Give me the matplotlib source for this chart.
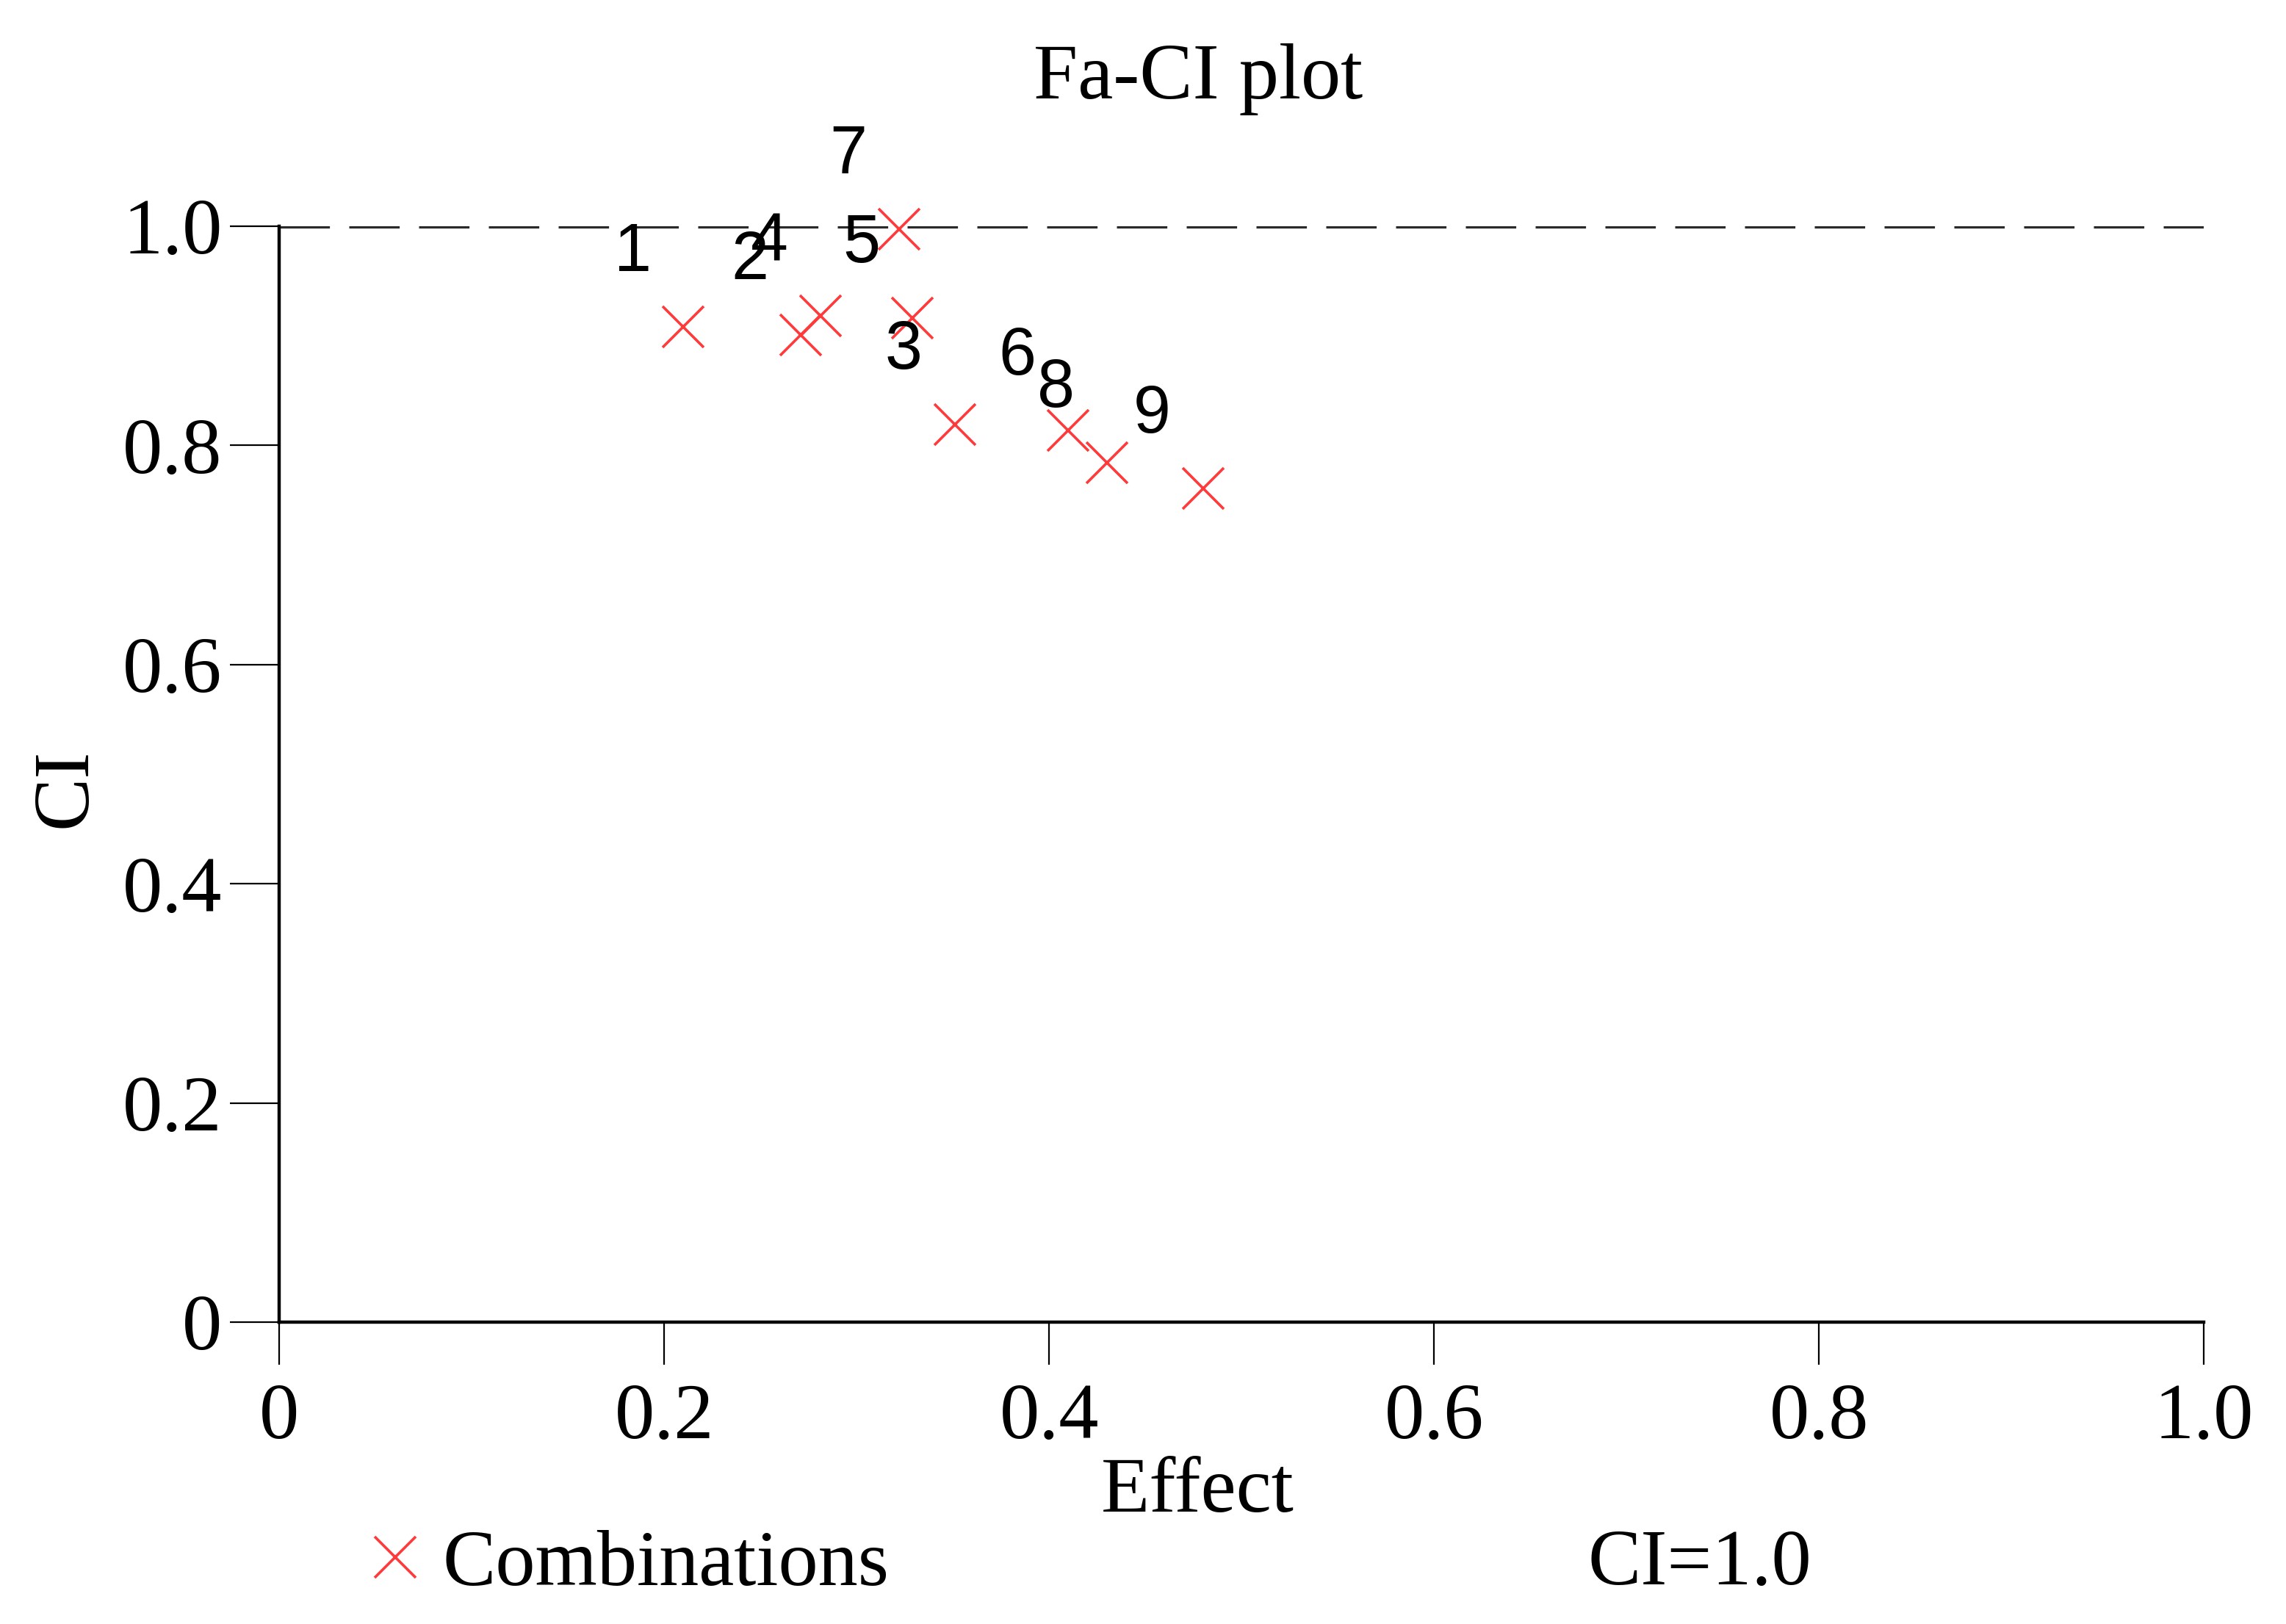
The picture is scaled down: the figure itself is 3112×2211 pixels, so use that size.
import matplotlib
matplotlib.use('Agg')
import matplotlib.pyplot as plt
from matplotlib.lines import Line2D

# combination data
effect = [0.210, 0.271, 0.281, 0.322, 0.329, 0.351, 0.410, 0.430, 0.480]
ci = [0.908, 0.901, 0.918, 0.997, 0.916, 0.819, 0.814, 0.784, 0.761]
labels = ['1', '2', '4', '7', '5', '3', '6', '8', '9']
ci_ref = 1.0
ticks = [0, 0.2, 0.4, 0.6, 0.8, 1.0]
tick_labels = ['0', '0.2', '0.4', '0.6', '0.8', '1.0']

serif = 'Liberation Serif'
red = '#ff3a3a'
fs = 39

fig = plt.figure(figsize=(15.56, 11.055), dpi=200)
ax = fig.add_axes([0.1222, 0.1859, 0.8419, 0.6748])

ax.axhline(ci_ref, color='#2a2a2a', lw=1.9, ls=(0, (13, 5)), zorder=1)
ax.plot(effect, ci, ls='none', marker='x', ms=20, mew=1.3, color=red,
        zorder=3, clip_on=False)
for x, y, lab in zip(effect, ci, labels):
    ax.annotate(lab, (x, y), xytext=(-25, 36), textcoords='offset points',
                ha='center', va='center', fontsize=33, family='Liberation Sans')

ax.set_xlim(0, 1)
ax.set_ylim(0, 1)
ax.set_xticks(ticks)
ax.set_xticklabels(tick_labels)
ax.set_yticks(ticks)
ax.set_yticklabels(tick_labels)
for s in ['top', 'right']:
    ax.spines[s].set_visible(False)
for s in ['left', 'bottom']:
    ax.spines[s].set_linewidth(1.6)
ax.tick_params(axis='y', direction='out', length=24, width=0.8, pad=4)
ax.tick_params(axis='x', direction='out', length=21, width=0.8, pad=9)
for t in ax.get_xticklabels() + ax.get_yticklabels():
    t.set_family(serif)
    t.set_fontsize(fs)

fig.text(0.524, 0.951, 'Fa-CI plot', ha='center', va='center', family=serif, fontsize=fs)
fig.text(0.524, 0.081, 'Effect', ha='center', va='center', family=serif, fontsize=fs)
fig.text(0.029, 0.515, 'CI', ha='center', va='center', rotation=90, family=serif, fontsize=fs)

h = Line2D([], [], ls='none', marker='x', ms=20, mew=1.3, color=red)
fig.legend([h], ['Combinations'], loc='center left', bbox_to_anchor=(0.131, 0.036),
           frameon=False, prop={'family': serif, 'size': fs},
           handlelength=0.6, handletextpad=0.3)
fig.text(0.7435, 0.036, 'CI=1.0', ha='center', va='center', family=serif, fontsize=fs)

fig.savefig('out.png', dpi=200)
